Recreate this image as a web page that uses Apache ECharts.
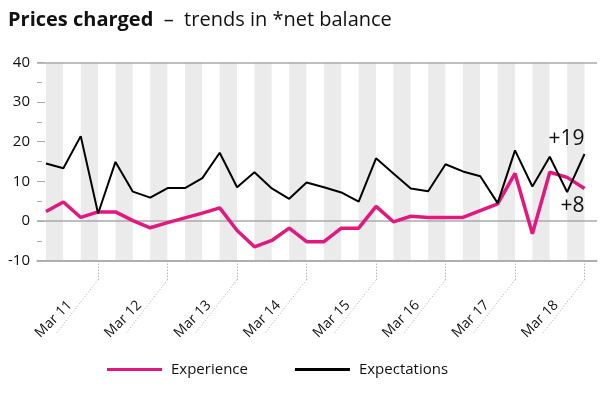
<!DOCTYPE html>
<html>
<head>
<meta charset="utf-8">
<script src="https://cdn.jsdelivr.net/npm/echarts@6/dist/echarts.min.js"></script>
<style>
html,body{margin:0;padding:0;background:#fff;}
#c{width:614px;height:395px;}
</style>
</head>
<body>
<div id="c"></div>
<script>
const categories = ['Jun 10','Sep 10','Dec 10','Mar 11','Jun 11','Sep 11','Dec 11','Mar 12','Jun 12','Sep 12','Dec 12','Mar 13','Jun 13','Sep 13','Dec 13','Mar 14','Jun 14','Sep 14','Dec 14','Mar 15','Jun 15','Sep 15','Dec 15','Mar 16','Jun 16','Sep 16','Dec 16','Mar 17','Jun 17','Sep 17','Dec 17','Mar 18'];
const experience = [2.4, 4.8, 0.9, 2.3, 2.3, 0.1, -1.7, -0.4, 0.8, 2.0, 3.3, -2.4, -6.5, -4.9, -1.8, -5.2, -5.2, -1.8, -1.8, 3.7, -0.2, 1.2, 0.9, 0.9, 0.9, 2.6, 4.3, 12.0, -3.2, 12.3, 11.0, 8.2];
const expectations = [14.5, 13.3, 21.4, 1.9, 14.9, 7.4, 5.9, 8.3, 8.3, 10.8, 17.2, 8.5, 12.3, 8.2, 5.6, 9.7, 8.5, 7.2, 4.9, 15.8, 12.0, 8.2, 7.5, 14.3, 12.5, 11.3, 4.5, 17.8, 8.7, 16.2, 7.3, 16.9];
const seriesNames = ['Experience', 'Expectations'];
const endLabels = ['+8', '+19'];
const yTicks = [-10, 0, 10, 20, 30, 40];

const FONT = 'Open Sans';
const PINK = '#e2187f';
const isMar = (i, v) => String(v).indexOf('Mar') === 0;

function withEndLabel(values, text, pos) {
  return values.map((v, i) => i === values.length - 1 ? {
    value: v,
    label: {show: true, formatter: text, position: pos, align: 'right', distance: pos === 'top' ? 4 : 7,
      fontFamily: FONT, fontSize: 21, color: '#111'}
  } : v);
}

const chart = echarts.init(document.getElementById('c'), null, {renderer: 'canvas'});
const option = {
  animation: false,
  backgroundColor: '#fff',
  title: {
    left: 3, top: 5,
    text: '{b|Prices charged}{n|  –  trends in *net balance}',
    textStyle: {
      fontWeight: 'normal',
      rich: {
        b: {fontFamily: FONT, fontWeight: 'bold', fontSize: 20, color: '#111'},
        n: {fontFamily: FONT, fontWeight: 'normal', fontSize: 20, color: '#111'}
      }
    }
  },
  legend: {
    left: 102, top: 357,
    icon: 'rect',
    itemWidth: 55, itemHeight: 3, itemGap: 47,
    textStyle: {fontFamily: FONT, fontSize: 15, color: '#111', padding: [0, 0, 0, 4]},
    data: seriesNames
  },
  grid: [
    {left: 46, right: 29.5, top: 62.3, bottom: 134.3},
    {left: 37, right: 17, top: 62.3, bottom: 134.3}
  ],
  xAxis: [
    {
      type: 'category', gridIndex: 0, data: categories, boundaryGap: false,
      axisLine: {show: false, onZero: false},
      axisTick: {show: true, interval: isMar, length: 20, lineStyle: {color: '#999', type: [1, 2], width: 1}},
      axisLabel: {show: true, interval: isMar, rotate: 45, margin: 14, padding: [0, 40, 0, 0],
        fontFamily: FONT, fontSize: 14, color: '#111'},
      splitLine: {show: false},
      splitArea: {show: true, interval: 0, areaStyle: {color: ['#ebebeb', '#ffffff']}}
    },
    {
      type: 'value', gridIndex: 1, min: 0, max: 1, show: true, z: 2,
      axisLine: {show: true, onZero: false, lineStyle: {color: '#aaa', width: 1.5}},
      axisTick: {show: false}, axisLabel: {show: false}, splitLine: {show: false}
    }
  ],
  yAxis: [
    {type: 'value', gridIndex: 0, min: yTicks[0], max: yTicks[yTicks.length - 1], interval: 10, show: false},
    {
      type: 'value', gridIndex: 1, min: yTicks[0], max: yTicks[yTicks.length - 1], interval: 10, z: 2,
      axisLine: {show: false},
      axisTick: {show: true, inside: true, length: 8, lineStyle: {color: '#aaa', width: 1}},
      minorTick: {show: true, splitNumber: 2, length: 5, lineStyle: {color: '#aaa', width: 1}},
      axisLabel: {margin: 7, fontFamily: FONT, fontSize: 15, color: '#111'},
      splitLine: {show: true, lineStyle: {color: ['#aaa', '#aaa', 'rgba(0,0,0,0)', 'rgba(0,0,0,0)', 'rgba(0,0,0,0)', '#aaa'], width: 1.5}}
    }
  ],
  series: [
    {
      name: seriesNames[0], type: 'line', xAxisIndex: 0, yAxisIndex: 0, z: 4,
      data: withEndLabel(experience, endLabels[0], 'bottom'),
      symbol: 'circle', symbolSize: 0, showSymbol: true,
      lineStyle: {color: PINK, width: 3.5}, itemStyle: {color: PINK}
    },
    {
      name: seriesNames[1], type: 'line', xAxisIndex: 0, yAxisIndex: 0, z: 5,
      data: withEndLabel(expectations, endLabels[1], 'top'),
      symbol: 'circle', symbolSize: 0, showSymbol: true,
      lineStyle: {color: '#000', width: 2}, itemStyle: {color: '#000'}
    }
  ]
};
chart.setOption(option);

// dotted diagonal leaders under each shown tick
const y0 = chart.convertToPixel({yAxisIndex: 0}, yTicks[0]);
const leaders = [];
categories.forEach((c, i) => {
  if (!isMar(i, c)) return;
  const x = chart.convertToPixel({xAxisIndex: 0}, c);
  leaders.push({
    type: 'polyline', silent: true, z: 10,
    shape: {points: [[x, y0 + 19], [x - 42, y0 + 73]]},
    style: {stroke: '#aaa', lineWidth: 1, lineDash: [1, 2], fill: null}
  });
});
chart.setOption({graphic: leaders});
</script>
</body>
</html>
